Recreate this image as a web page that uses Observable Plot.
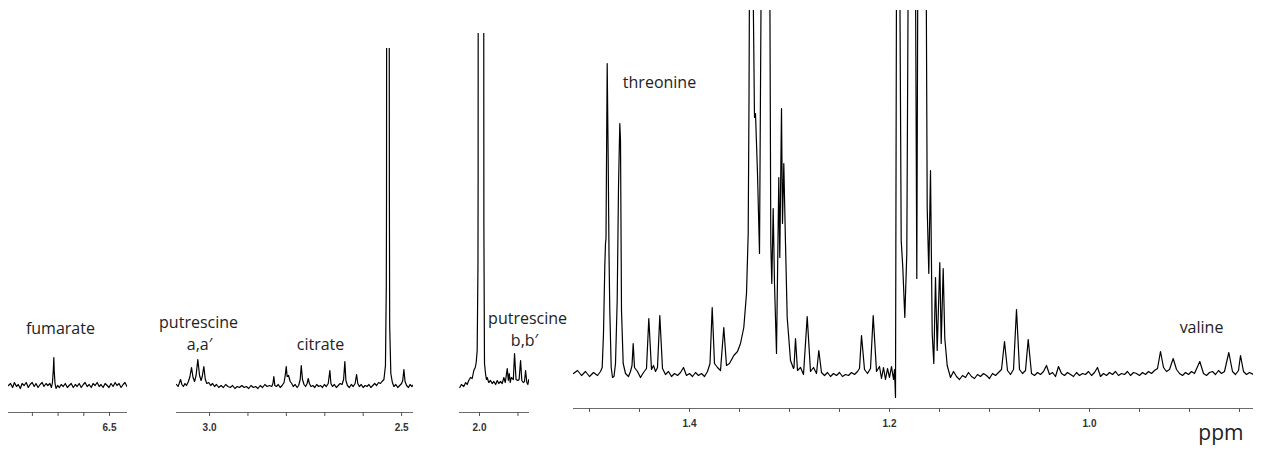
<!DOCTYPE html>
<html>
<head>
<meta charset="utf-8">
<script src="https://cdn.jsdelivr.net/npm/d3@7"></script>
<script src="https://cdn.jsdelivr.net/npm/@observablehq/plot@0.6"></script>
<style>
  html, body { margin: 0; padding: 0; background: #fff; }
  #chart { position: relative; width: 1261px; height: 452px; overflow: hidden; background: #fff; }
  #chart svg { position: absolute; top: 0; background: transparent; overflow: visible; }
</style>
</head>
<body>
<div id="chart"></div>
<script>
// ---------- DATA: [chemical shift (ppm), intensity (arbitrary units above baseline)] ----------
const fumarateTrace = [
  [6.893,0],[6.885,2],[6.877,-2],[6.870,3],[6.862,-1],[6.855,1],[6.847,-3],[6.840,2],[6.832,0],[6.824,3],
  [6.816,-2],[6.809,1],[6.801,3],[6.793,-1],[6.786,2],[6.778,-2],[6.770,1],[6.762,3],[6.755,-1],[6.747,2],
  [6.740,0],[6.732,2],[6.726,-2],[6.722,3],[6.7185,16],[6.7167,28],[6.7150,14],[6.712,2],[6.708,-3],[6.702,0],
  [6.695,-2],[6.688,1],[6.680,-1],[6.672,2],[6.664,-2],[6.657,0],[6.649,2],[6.641,-2],[6.633,1],[6.626,-1],
  [6.618,2],[6.610,-2],[6.602,1],[6.595,3],[6.587,-1],[6.579,1],[6.571,-2],[6.564,2],[6.556,0],[6.548,3],
  [6.540,-1],[6.533,1],[6.525,-2],[6.517,2],[6.509,0],[6.502,-2],[6.494,2],[6.486,-1],[6.478,3],[6.471,0],
  [6.463,2],[6.455,-2],[6.447,1],[6.440,3],[6.432,-1]
];
const region2Trace = [
  [3.086,1],[3.082,-1],[3.079,2],[3.0755,6],[3.072,1],[3.068,-1],[3.064,2],[3.060,0],[3.055,4],[3.051,9],
  [3.0469,18],[3.043,8],[3.039,4],[3.035,10],[3.0305,26],[3.026,10],[3.022,5],[3.019,9],[3.0148,19],[3.011,6],
  [3.007,2],[3.002,3],[2.997,0],[2.992,2],[2.987,-1],[2.982,1],[2.976,-2],[2.970,0],[2.964,-2],[2.958,1],
  [2.952,-1],[2.946,-2],[2.940,0],[2.934,-3],[2.928,-1],[2.922,-2],[2.916,0],[2.910,-2],[2.904,-1],[2.898,-3],
  [2.892,0],[2.886,-2],[2.880,-1],[2.874,-3],[2.868,0],[2.862,-2],[2.856,1],[2.850,-1],[2.844,0],[2.838,-1],
  [2.835,2],[2.8326,9],[2.830,0],[2.826,-1],[2.821,1],[2.816,-2],[2.811,0],[2.806,3],[2.803,10],[2.8003,19],
  [2.798,9],[2.7943,10],[2.790,4],[2.786,2],[2.782,-1],[2.777,1],[2.772,-2],[2.768,0],[2.764,6],[2.7612,20],
  [2.758,6],[2.754,1],[2.750,-1],[2.746,2],[2.743,7],[2.740,2],[2.736,-1],[2.731,0],[2.726,-2],[2.721,1],
  [2.716,-1],[2.711,0],[2.706,-2],[2.701,1],[2.696,-1],[2.691,2],[2.6867,15],[2.684,2],[2.680,-1],[2.675,1],
  [2.670,-2],[2.665,0],[2.660,2],[2.655,1],[2.651,6],[2.6477,24],[2.645,5],[2.641,0],[2.636,-2],[2.631,1],
  [2.626,-1],[2.621,2],[2.6172,11],[2.614,2],[2.610,-1],[2.605,1],[2.600,-2],[2.595,0],[2.590,-1],[2.585,1],
  [2.580,-2],[2.575,0],[2.570,2],[2.565,0],[2.560,3],[2.555,2],[2.551,4],[2.546,6],[2.542,20],[2.5398,100],
  [2.5392,190],[2.5389,400],[2.5322,400],[2.5318,190],[2.5310,60],[2.528,12],[2.524,3],[2.520,-1],[2.515,1],[2.510,-2],
  [2.505,0],[2.500,2],[2.497,5],[2.494,16],[2.491,4],[2.487,0],[2.482,-2],[2.478,1],[2.473,-1],[2.469,1]
];
const region3Trace = [
  [2.0513,-2],[2.047,1],[2.0409,-1],[2.036,3],[2.032,1],[2.028,5],[2.0234,8],[2.019,7],[2.0148,15],[2.011,18],
  [2.0086,23],[2.006,35],[2.0040,120],[2.0036,205],[2.0034,400],[1.9890,400],[1.9886,160],[1.9875,60],[1.987,22],[1.9844,12],
  [1.982,6],[1.980,8],[1.976,3],[1.9714,5],[1.967,2],[1.9627,4],[1.958,1],[1.9539,5],[1.950,2],[1.9453,4],
  [1.941,2],[1.9367,8],[1.933,3],[1.9279,17],[1.925,5],[1.9227,12],[1.920,3],[1.9174,8],[1.912,6],[1.9089,32],
  [1.905,6],[1.9003,5],[1.897,6],[1.8932,25],[1.890,5],[1.8862,3],[1.883,4],[1.8802,15],[1.877,3],[1.8742,1],
  [1.872,6],[1.869,2]
];
const region4Trace = [
  [1.516,0],[1.512,3],[1.508,-2],[1.504,2],[1.500,-3],[1.496,1],[1.492,-2],[1.489,2],
  [1.4873,6],[1.4860,40],[1.4847,107],[1.4840,130],[1.4835,135],[1.4828,240],[1.4823,310],[1.4818,260],[1.4813,213],[1.4805,120],
  [1.4797,63],[1.4783,6],[1.477,-4],[1.4755,-3],[1.474,10],[1.4723,73],[1.471,186],[1.4697,250],[1.469,233],[1.468,63],
  [1.4663,10],[1.464,0],[1.461,-3],[1.459,2],[1.4575,8],[1.4563,30],[1.455,6],[1.452,2],[1.449,-4],[1.446,1],
  [1.443,5],[1.4407,55],[1.438,4],[1.436,8],[1.434,2],[1.432,6],[1.4297,58],[1.427,5],[1.424,-1],[1.421,2],
  [1.418,-3],[1.415,0],[1.412,-2],[1.409,1],[1.406,6],[1.403,-2],[1.400,0],[1.397,-3],[1.394,1],[1.391,-2],
  [1.388,0],[1.385,-3],[1.382,2],[1.3795,10],[1.3773,66],[1.375,10],[1.372,6],[1.369,3],[1.3657,46],[1.363,8],
  [1.360,10],[1.3557,18],[1.352,22],[1.349,30],[1.3457,46],[1.343,80],[1.3413,140],[1.3405,273],[1.340,400],[1.3365,400],
  [1.335,256],[1.334,260],[1.332,200],[1.330,120],[1.3283,400],[1.3197,400],[1.3187,130],[1.3177,90],[1.3163,165],[1.315,90],
  [1.313,20],[1.3107,196],[1.3097,116],[1.308,265],[1.307,150],[1.3057,210],[1.304,130],[1.3023,56],[1.299,13],[1.296,5],
  [1.2955,6],[1.294,35],[1.292,3],[1.289,6],[1.286,-1],[1.2823,57],[1.279,2],[1.276,6],[1.273,0],[1.2707,23],
  [1.268,1],[1.265,-2],[1.262,1],[1.259,-3],[1.256,0],[1.253,-2],[1.250,1],[1.247,-3],[1.244,-1],[1.241,-2],
  [1.238,1],[1.235,-1],[1.232,2],[1.230,5],[1.228,38],[1.225,4],[1.222,0],[1.219,5],[1.2163,58],[1.213,2],
  [1.210,7],[1.208,-5],[1.206,6],[1.204,-6],[1.202,5],[1.200,-4],[1.198,7],[1.196,-6],[1.195,4],[1.194,-24],
  [1.193,400],[1.1897,400],[1.1883,133],[1.1867,106],[1.1847,56],[1.1827,120],[1.1813,400],[1.174,400],[1.1727,95],[1.1717,400],
  [1.1633,400],[1.1623,166],[1.1607,100],[1.159,203],[1.1573,40],[1.1557,10],[1.154,96],[1.1523,23],[1.1497,111],[1.1483,30],
  [1.1463,105],[1.1447,35],[1.1423,8],[1.139,-4],[1.136,2],[1.133,-3],[1.130,-6],[1.127,-2],[1.124,-4],[1.121,1],
  [1.118,-3],[1.115,-5],[1.112,-1],[1.109,-3],[1.106,0],[1.103,-2],[1.100,-5],[1.097,0],[1.094,-2],[1.091,1],
  [1.088,4],[1.085,32],[1.082,3],[1.079,-1],[1.076,4],[1.073,64],[1.070,4],[1.067,0],[1.064,3],[1.0613,34],
  [1.058,0],[1.055,-2],[1.052,1],[1.049,-1],[1.046,2],[1.043,8],[1.040,-1],[1.037,1],[1.034,-3],[1.031,7],
  [1.028,0],[1.025,-2],[1.022,1],[1.019,-1],[1.016,-3],[1.013,1],[1.010,-2],[1.007,0],[1.004,-1],[1.001,2],
  [0.998,-2],[0.995,1],[0.992,6],[0.989,-3],[0.986,0],[0.983,-2],[0.980,1],[0.977,-1],[0.974,2],[0.971,-2],
  [0.968,0],[0.965,-1],[0.962,2],[0.959,-2],[0.956,1],[0.953,0],[0.950,-2],[0.947,1],[0.944,-1],[0.941,2],
  [0.938,0],[0.935,3],[0.932,5],[0.929,22],[0.926,6],[0.923,2],[0.920,4],[0.9163,15],[0.913,4],[0.910,0],
  [0.907,-2],[0.904,1],[0.901,-1],[0.898,2],[0.895,0],[0.8897,12],[0.886,0],[0.883,-2],[0.880,1],[0.877,2],
  [0.874,-1],[0.871,3],[0.868,0],[0.865,2],[0.8607,21],[0.857,2],[0.854,-1],[0.851,3],[0.849,18],[0.846,2],
  [0.843,-1],[0.840,1],[0.836,-1]
];

// ppm domains of the four panels (left edge, right edge)
const panel1Domain = [6.893, 6.430];
const panel2Domain = [3.086, 2.469];
const panel3Domain = [2.052, 1.870];
const panel4Domain = [1.516, 0.836];

// tick positions and labelled ticks
const panel1Ticks = [6.8, 6.7, 6.6, 6.5];
const panel1Labelled = [6.5];
const panel2Ticks = [3.0, 2.9, 2.8, 2.7, 2.6, 2.5];
const panel2Labelled = [3.0, 2.5];
const panel3Ticks = [2.0, 1.9];
const panel3Labelled = [2.0];
const panel4Ticks = [1.5, 1.45, 1.4, 1.35, 1.3, 1.25, 1.2, 1.15, 1.1, 1.05, 1.0, 0.95, 0.9, 0.85];
const panel4Labelled = [1.4, 1.2, 1.0];

// metabolite annotations (anchored in data coordinates)
const panel1Notes = [{ppm: 6.691, level: 57, text: "fumarate"}];
const panel2Notes = [
  {ppm: 3.0286, level: 63, text: "putrescine"},
  {ppm: 3.026, level: 41, text: "a,a\u2032"},
  {ppm: 2.711, level: 41, text: "citrate"}
];
const panel3Notes = [
  {ppm: 1.875, level: 67, text: "putrescine"},
  {ppm: 1.8828, level: 45, text: "b,b\u2032"}
];
const panel4Notes = [
  {ppm: 1.430, level: 291, text: "threonine"},
  {ppm: 0.888, level: 46, text: "valine"}
];
const axisTitle = "ppm";

// ---------- LAYOUT (pixels) ----------
const pad = 20;
const panels = [
  {trace: fumarateTrace, domain: panel1Domain, ticks: panel1Ticks, labelled: panel1Labelled, notes: panel1Notes, left: 8, right: 127, top: 48, axisY: 412, baseY: 385},
  {trace: region2Trace, domain: panel2Domain, ticks: panel2Ticks, labelled: panel2Labelled, notes: panel2Notes, left: 176, right: 413, top: 48, axisY: 412, baseY: 385},
  {trace: region3Trace, domain: panel3Domain, ticks: panel3Ticks, labelled: panel3Labelled, notes: panel3Notes, left: 459, right: 529, top: 33, axisY: 412, baseY: 385},
  {trace: region4Trace, domain: panel4Domain, ticks: panel4Ticks, labelled: panel4Labelled, notes: panel4Notes, left: 573, right: 1253, top: 10, axisY: 408, baseY: 373, title: true}
];

const H = 452;
const fmt = d3.format(".1f");
const chart = document.getElementById("chart");
const labelFont = "'Open Sans', 'Noto Sans', sans-serif";

panels.forEach(p => {
  const yDomain = [p.baseY - p.axisY, p.baseY - p.top];
  const marks = [
    Plot.ruleY([yDomain[0]], {stroke: "#6a6a6a", strokeWidth: 1}),
    Plot.line(p.trace, {x: d => d[0], y: d => d[1], stroke: "#000", strokeWidth: 1.2, clip: true}),
    Plot.axisX({
      ticks: p.ticks,
      tickSize: 4,
      tickPadding: 7,
      stroke: "#555",
      fill: "#333",
      fontSize: 10,
      fontWeight: "bold",
      fontFamily: "'Liberation Sans', Arial, sans-serif",
      tickFormat: d => p.labelled.some(v => Math.abs(v - d) < 1e-9) ? fmt(d) : "",
      label: null
    }),
    Plot.text(p.notes, {x: "ppm", y: "level", text: "text", fontSize: 16, fontFamily: labelFont, fill: "#222", fontWeight: "normal"})
  ];
  if (p.title) {
    marks.push(Plot.text([axisTitle], {frameAnchor: "bottom-right", text: d => d, dy: 25, dx: -10, textAnchor: "end", lineAnchor: "middle", fontSize: 21, fontFamily: labelFont, fill: "#222", fontWeight: "normal"}));
  }
  const svg = Plot.plot({
    width: (p.right - p.left) + 2 * pad,
    height: H,
    marginLeft: pad,
    marginRight: pad,
    marginTop: p.top,
    marginBottom: H - p.axisY,
    style: {background: "transparent", overflow: "visible"},
    x: {domain: p.domain},
    y: {domain: yDomain, axis: null},
    marks
  });
  svg.style.left = (p.left - pad) + "px";
  chart.appendChild(svg);
});
</script>
</body>
</html>
